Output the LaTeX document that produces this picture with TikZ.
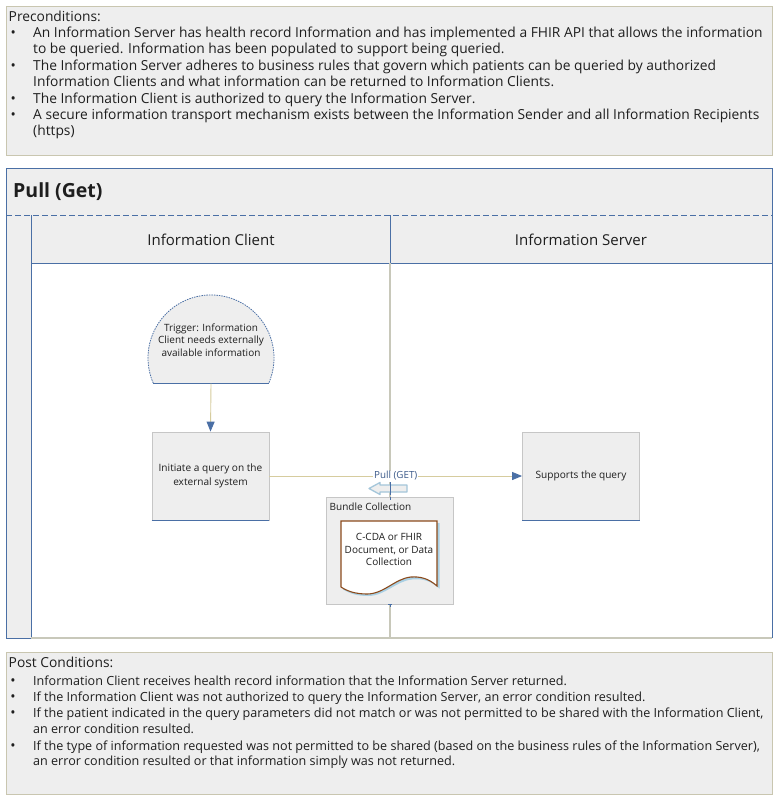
\documentclass[tikz,border=0pt]{standalone}
\usepackage{fontspec}
\setmainfont{Open Sans}
\usetikzlibrary{arrows.meta}
\definecolor{fillg}{HTML}{EEEEEE}
\definecolor{lblue}{HTML}{4A6FA5}
\definecolor{bordtan}{HTML}{C9C6B0}
\definecolor{linegray}{HTML}{C8C8BA}
\definecolor{conntan}{HTML}{D6CC9E}
\definecolor{txtc}{HTML}{1E1E1E}
\definecolor{pullblue}{HTML}{3C5A8A}
\definecolor{hollowblue}{HTML}{A4C6DA}
\definecolor{docbrown}{HTML}{8B4A1C}
\definecolor{docshadow}{HTML}{A9D0E4}
\definecolor{boxedge}{HTML}{C6C6C6}
\tikzset{
  panel/.style={draw=bordtan, fill=fillg, line width=1.2pt, anchor=north west, inner sep=0pt},
  pretxt/.style={anchor=mid west, inner sep=0pt, text=txtc, font=\fontsize{13.8}{16}\selectfont},
  posttxt/.style={anchor=mid west, inner sep=0pt, text=txtc, font=\fontsize{12.58}{15}\selectfont},
  bul/.style={anchor=mid, inner sep=0pt, text=txtc, font=\fontsize{14}{16}\selectfont},
  procbox/.style={draw=boxedge, fill=fillg, line width=0.8pt, minimum width=117pt, minimum height=88pt, inner sep=2pt, align=center, text=txtc, font=\fontsize{10.1}{13.4}\selectfont},
  lanelbl/.style={inner sep=0pt, text=txtc, font=\fontsize{15}{18}\selectfont},
  connector/.style={draw=conntan, line width=0.9pt, -{Triangle[length=10pt,width=8pt,color=lblue]}},
}
\begin{document}
\begin{tikzpicture}[x=1pt,y=-1pt]
\useasboundingbox (0,0) rectangle (778,803);
\fill[white] (0,0) rectangle (778,803);

% ---------- Preconditions ----------
\node[panel, minimum width=766pt, minimum height=149pt] (pre) at (6,5.5) {};
\node[pretxt] (p0) at (8.5,18.5) {Preconditions:};
\node[bul] (pb1) at (13.3,35) {\textbullet};
\node[pretxt] (p1) at (33,35) {An Information Server has health record Information and has implemented a FHIR API that allows the information};
\node[pretxt] (p2) at (33,51.3) {to be queried. Information has been populated to support being queried.};
\node[bul] (pb3) at (13.3,68) {\textbullet};
\node[pretxt] (p3) at (33,68) {The Information Server adheres to business rules that govern which patients can be queried by authorized};
\node[pretxt] (p4) at (33,84.3) {Information Clients and what information can be returned to Information Clients.};
\node[bul] (pb5) at (13.3,100.6) {\textbullet};
\node[pretxt] (p5) at (33,100.6) {The Information Client is authorized to query the Information Server.};
\node[bul] (pb6) at (13.3,116.6) {\textbullet};
\node[pretxt] (p6) at (33,116.6) {A secure information transport mechanism exists between the Information Sender and all Information Recipients};
\node[pretxt] (p7) at (33,132.8) {(https)};

% ---------- Pool ----------
\fill[fillg] (6,168) rectangle (772,638);
\fill[white] (31,263) rectangle (772,638);
\draw[lblue, line width=1pt] (6,638) -- (6,168) -- (772,168) -- (772,638);
\draw[lblue, line width=1pt, dash pattern=on 6pt off 3pt] (6,215) -- (772,215);
\draw[lblue, line width=1pt] (31,215) -- (31,638) (6,638) -- (31,638);
\draw[lblue, line width=1pt] (31,263) -- (772,263);
\draw[lblue, line width=1pt] (390,215) -- (390,263);
\draw[linegray, line width=2pt] (31,638) -- (772,638);
\node[anchor=west, inner sep=0pt, text=txtc, font=\fontsize{19.5}{23}\bfseries\selectfont] (title) at (13,192) {Pull (Get)};
\node[lanelbl] (lc) at (211,239.5) {Information Client};
\node[lanelbl] (ls) at (581,239.5) {Information Server};

% lane divider
\coordinate (divtop) at (390,263);
\coordinate (divbot) at (390,637);
\draw[linegray, line width=2pt] (divtop) -- (divbot);

% ---------- Trigger ----------
\draw[lblue, fill=fillg, line width=0.8pt, dash pattern=on 1.5pt off 1pt] (153.2,383) arc[start angle=156.6, end angle=383.4, radius=63];
\draw[lblue, line width=1pt] (153.2,383) -- (268.8,383);
\node[align=center, inner sep=0pt, text=txtc, font=\fontsize{10}{12.5}\selectfont] (trig) at (211,340) {Trigger: Information\\Client needs externally\\available information};
\coordinate (trigb) at (211,383.5);

% ---------- Process boxes ----------
\node[procbox] (init) at (210.5,476) {Initiate a query on the\\external system};
\draw[lblue, line width=1.2pt] (init.south west) -- (init.south east);
\node[procbox] (supq) at (581,476) {Supports the query};
\draw[lblue, line width=1.2pt] (supq.south west) -- (supq.south east);

\draw[connector] (trigb) -- (init.north);
\draw[connector] (init.east) -- (supq.west)
  node[midway, fill=white, inner sep=1pt, text=pullblue, font=\fontsize{9.8}{12}\selectfont] (pull) {Pull (GET)};

% hollow return arrow
\draw[hollowblue, fill=fillg, line width=1.3pt, line join=round] (369,488.5) -- (380,482.5) -- (380,485) -- (407,485) -- (407,492) -- (380,492) -- (380,494.5) -- cycle;
\draw[lblue, line width=0.9pt] (390,482) -- (390,495);

% ---------- Bundle Collection ----------
\node[draw=boxedge, fill=fillg, line width=0.8pt, minimum width=127pt, minimum height=107pt, inner sep=0pt] (bund) at (389.5,551) {};
\node[anchor=west, inner sep=0pt, text=txtc, font=\fontsize{10}{12}\selectfont] (bt) at (329.5,506.5) {Bundle Collection};
\draw[lblue, line width=0.9pt] (390,497) -- (390,500) (388,604.5) -- (392,604.5) (390,604.5) -- (390,607);

% document
\fill[docshadow] (343,523) -- (439.5,523) -- (439.5,588.5) .. controls (430,580) and (421,578.5) .. (412,579.5) .. controls (396,581) and (385,596) .. (368,596) .. controls (356,596) and (349,593) .. (343,589.5) -- cycle;
\draw[docbrown, fill=white, line width=1.1pt] (341,521) -- (437,521) -- (437,586) .. controls (428,578) and (420,576.5) .. (411,577) .. controls (395,578.5) and (384,594) .. (367,594) .. controls (355,594) and (347,591) .. (341,587) -- cycle;
\node[align=center, inner sep=0pt, text=txtc, font=\fontsize{10}{12.2}\selectfont] (doct) at (389,549.5) {C-CDA or FHIR\\Document, or Data\\Collection};

% ---------- Post Conditions ----------
\node[panel, minimum width=766pt, minimum height=142pt] (post) at (6,652) {};
\node[pretxt] (q0) at (8.5,664.5) {Post Conditions:};
\node[bul] (qb1) at (13,683) {\textbullet};
\node[posttxt] (q1) at (33,683) {Information Client receives health record information that the Information Server returned.};
\node[bul] (qb2) at (13,699) {\textbullet};
\node[posttxt] (q2) at (33,699) {If the Information Client was not authorized to query the Information Server, an error condition resulted.};
\node[bul] (qb3) at (13,715.3) {\textbullet};
\node[posttxt] (q3) at (33,715.3) {If the patient indicated in the query parameters did not match or was not permitted to be shared with the Information Client,};
\node[posttxt] (q4) at (33,731.3) {an error condition resulted.};
\node[bul] (qb5) at (13,747.5) {\textbullet};
\node[posttxt] (q5) at (33,747.5) {If the type of information requested was not permitted to be shared (based on the business rules of the Information Server),};
\node[posttxt] (q6) at (33,763) {an error condition resulted or that information simply was not returned.};
\end{tikzpicture}
\end{document}
